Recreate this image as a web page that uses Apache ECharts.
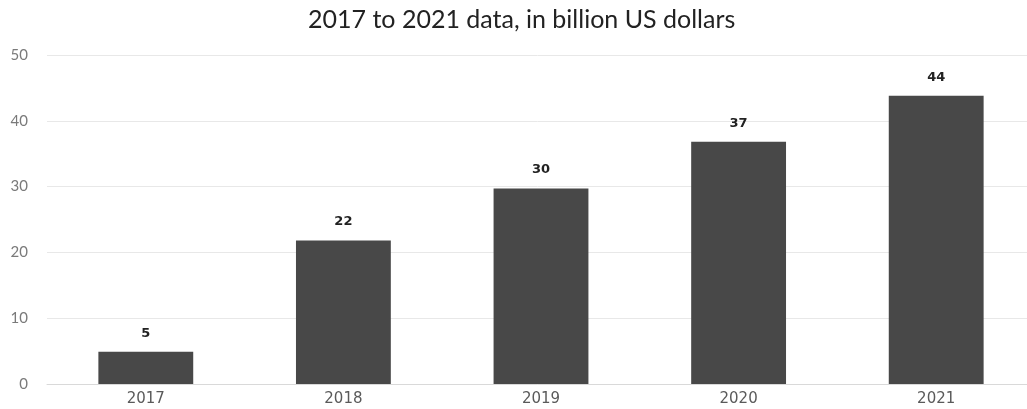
<!DOCTYPE html>
<html>
<head>
<meta charset="utf-8">
<script src="https://cdn.jsdelivr.net/npm/echarts@6/dist/echarts.min.js"></script>
<style>html,body{margin:0;padding:0;background:#fff}#c{width:1027px;height:409px}</style>
</head>
<body>
<div id="c"></div>
<script>
const categories = ['2017', '2018', '2019', '2020', '2021'];
const values = [4.9, 21.8, 29.7, 36.8, 43.8];
const yTicks = [0, 10, 20, 30, 40, 50];
const titleText = '2017 to 2021 data, in billion US dollars';

const chart = echarts.init(document.getElementById('c'), null, {renderer: 'canvas'});
chart.setOption({
  animation: false,
  backgroundColor: '#ffffff',
  title: {
    text: titleText,
    left: 308,
    top: 7,
    padding: 0,
    textStyle: {fontFamily: 'Lato', fontSize: 25, fontWeight: 'normal', color: '#222222'}
  },
  grid: {left: 47, width: 988, top: 55, bottom: 25, containLabel: false, outerBoundsMode: 'none'},
  xAxis: {
    type: 'category',
    data: categories,
    axisTick: {show: false},
    axisLine: {lineStyle: {color: '#d9d9d9', width: 1}},
    axisLabel: {fontFamily: 'DejaVu Sans', fontSize: 15, color: '#5a5a5a', margin: 8}
  },
  yAxis: {
    type: 'value',
    min: yTicks[0],
    max: yTicks[yTicks.length - 1],
    interval: 10,
    axisLine: {show: false},
    axisTick: {show: false},
    splitLine: {lineStyle: {color: '#e8e8e8', width: 1}},
    axisLabel: {fontFamily: 'Lato', fontSize: 15, color: '#7a7a7a', margin: 19}
  },
  series: [{
    type: 'bar',
    data: values,
    barWidth: '48%',
    itemStyle: {color: '#484848'},
    label: {
      show: true,
      position: 'top',
      distance: 12,
      formatter: p => Math.round(p.value),
      fontFamily: 'DejaVu Sans',
      fontWeight: 'bold',
      fontSize: 13,
      color: '#222222'
    }
  }]
});
</script>
</body>
</html>
